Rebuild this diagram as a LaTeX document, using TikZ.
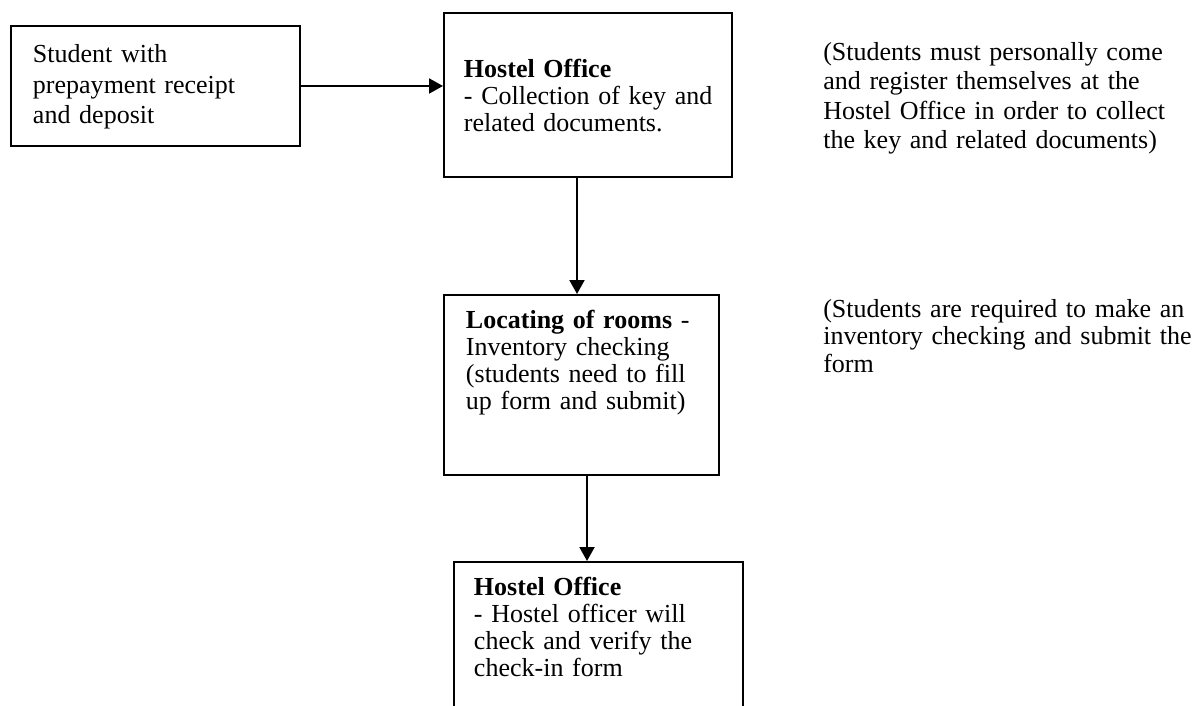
\documentclass[tikz,border=0pt]{standalone}
\usepackage{fontspec}
\setmainfont{Liberation Serif}
\usetikzlibrary{positioning,arrows.meta}
\tikzset{
  blk/.style={draw, line width=1.4pt, inner ysep=0pt, align=left, anchor=north west},
  note/.style={inner sep=0pt, align=left, anchor=base west, text width=9.25cm},
  arr/.style={line width=1.4pt, -{Triangle[length=0.35cm, width=0.375cm]}}}
\begin{document}
\begin{tikzpicture}[font=\fontsize{18.5}{19}\selectfont]
\clip (0,0) rectangle (29.875,-17.625);
% the four steps
\node[blk, inner xsep=0.55cm, text width=6.125cm, text height=0.9175cm, text depth=2.0825cm,
  font=\fontsize{18.5}{21.7}\selectfont] (stud) at (0.25,-0.625)
  {Student with\\prepayment receipt\\and deposit};
\node[blk, inner xsep=0.5cm, text width=6.2cm, text height=1.625cm, text depth=2.475cm] (keys) at (11.075,-0.3)
  {\textbf{Hostel Office}\\\mbox{- Collection of key and}\\related documents.};
\node[blk, inner xsep=0.55cm, text width=5.775cm, text height=0.85cm, text depth=3.65cm] (room) at (11.075,-7.35)
  {\textbf{Locating of rooms} -\\Inventory checking\\(students need to fill\\up form and submit)};
\node[blk, inner xsep=0.5cm, text width=6.225cm, text height=0.85cm, text depth=3.0cm] (chk) at (11.325,-14.025)
  {\textbf{Hostel Office}\\- Hostel officer will\\check and verify the\\check-in form};
% remarks on the right
\node[note, font=\fontsize{18.5}{20.85}\selectfont] (rem1) at (20.575,-1.5125)
  {(Students must personally come\\and register themselves at the\\Hostel Office in order to collect\\the key and related documents)};
\node[note, font=\fontsize{18.5}{19.6}\selectfont] (rem2) at (20.575,-7.925)
  {(Students are required to make an\\\mbox{inventory checking and submit the}\\form};
% flow
\draw[arr] (stud.east) -- (stud.east -| keys.west);
\draw[arr] ([xshift=3.35cm]keys.south west) -- ([xshift=3.35cm]room.north west);
\draw[arr] ([xshift=3.6cm]room.south west) -- ([xshift=3.35cm]chk.north west);
\end{tikzpicture}
\end{document}
